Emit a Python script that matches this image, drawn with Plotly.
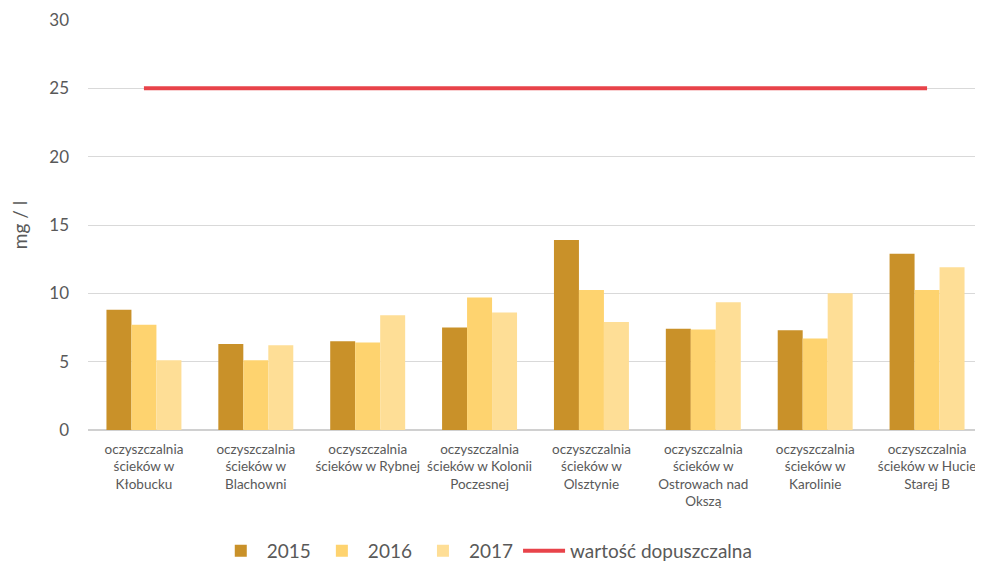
import plotly.graph_objs as go

oczyszczalnie = [
    "oczyszczalnia<br>ścieków w<br>Kłobucku",
    "oczyszczalnia<br>ścieków w<br>Blachowni",
    "oczyszczalnia<br>ścieków w Rybnej",
    "oczyszczalnia<br>ścieków w Kolonii<br>Poczesnej",
    "oczyszczalnia<br>ścieków w<br>Olsztynie",
    "oczyszczalnia<br>ścieków w<br>Ostrowach nad<br>Okszą",
    "oczyszczalnia<br>ścieków w<br>Karolinie",
    "oczyszczalnia<br>ścieków w Hucie<br>Starej B",
]
wartosci_2015 = [8.8, 6.3, 6.5, 7.5, 13.9, 7.4, 7.3, 12.9]
wartosci_2016 = [7.7, 5.1, 6.4, 9.7, 10.25, 7.35, 6.7, 10.25]
wartosci_2017 = [5.1, 6.2, 8.4, 8.6, 7.9, 9.35, 10.0, 11.9]
dopuszczalna = [25] * len(oczyszczalnie)

kolory = {'2015': '#C99129', '2016': '#FED36F', '2017': '#FEDE96'}
font_nm = 'Lato'

fig = go.Figure()
for rok, vals in [('2015', wartosci_2015), ('2016', wartosci_2016), ('2017', wartosci_2017)]:
    fig.add_trace(go.Bar(x=oczyszczalnie, y=vals, name=rok, marker_color=kolory[rok],
                         marker_line_width=0))
fig.add_trace(go.Scatter(x=oczyszczalnie, y=dopuszczalna, name='wartość dopuszczalna',
                         mode='lines', line=dict(color='#E8434A', width=4)))

# strona ma 8px marginesu body, wiec figura jest o tyle mniejsza
fig.update_layout(
    width=975, height=554,
    barmode='group', bargap=0.33, bargroupgap=0,
    plot_bgcolor='white', paper_bgcolor='white',
    margin=dict(l=80, r=0, t=12, b=132, autoexpand=False),
    font=dict(family=font_nm, color='#595959'),
    legend=dict(orientation='h', x=0.445, xanchor='center', y=-0.295, yanchor='middle',
                font=dict(size=19, color='#595959'), itemwidth=42, traceorder='normal'),
    showlegend=True,
)
fig.update_xaxes(tickfont=dict(size=13.5, color='#595959'), showgrid=False,
                 showline=False, ticks='', tickangle=0, automargin=False,
                 ticklabelstandoff=9)
fig.update_yaxes(range=[0, 30], dtick=5, gridcolor='#D9D9D9', gridwidth=1,
                 zeroline=True, zerolinecolor='#D0D0D0', zerolinewidth=2,
                 tickfont=dict(size=17, color='#595959'), ticklabelstandoff=18,
                 automargin=False,
                 title=dict(text='mg / l', font=dict(size=19, color='#595959'), standoff=16))

fig.write_html("out.html")
